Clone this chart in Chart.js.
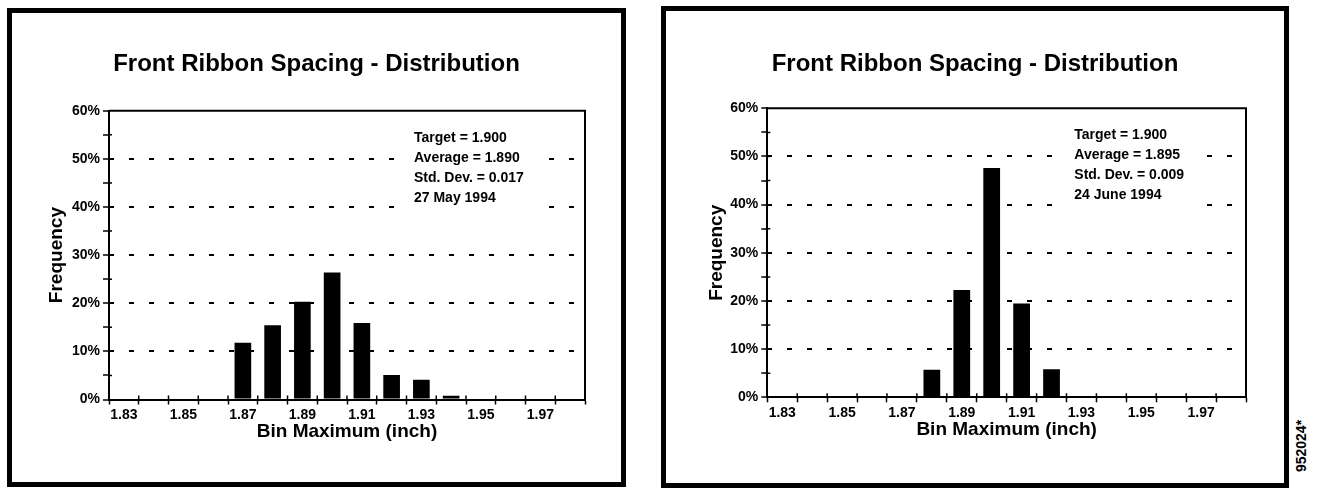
<!DOCTYPE html>
<html>
<head>
<meta charset="utf-8">
<script src="https://cdn.jsdelivr.net/npm/chart.js@4"></script>
<style>
  body { margin: 0; background: #fff; width: 1317px; height: 488px; position: relative; overflow: hidden; }
  .frame { position: absolute; border: 5px solid #000; box-sizing: border-box; }
  .frame canvas { position: absolute; left: 0; top: 0; }
  #stamp { position: absolute; left: 1301px; top: 446px; font: bold 14px "Liberation Sans", Arial, sans-serif;
           transform: translate(-50%, -50%) rotate(-90deg); white-space: nowrap; }
</style>
</head>
<body>
<div class="frame" style="left:7px;top:8px;width:619px;height:479px"><canvas id="mayChart" width="609" height="469"></canvas></div>
<div class="frame" style="left:661px;top:6px;width:628px;height:482px"><canvas id="juneChart" width="618" height="472"></canvas></div>
<div id="stamp">952024*</div>
<script>
// bins (inch) and frequency (%) per bin
var binMax = ["1.83", "1.84", "1.85", "1.86", "1.87", "1.88", "1.89", "1.90",
  "1.91", "1.92", "1.93", "1.94", "1.95", "1.96", "1.97", "1.98"];
var xTickLabels = ["1.83", "1.85", "1.87", "1.89", "1.91", "1.93", "1.95", "1.97"];
var yTickLabels = [0, 10, 20, 30, 40, 50, 60];

var freqMay = [0, 0, 0, 0, 11.8, 15.4, 20.3, 26.4, 15.9, 5.1, 4.1, 0.8, 0, 0, 0, 0];
var freqJune = [0, 0, 0, 0, 0, 5.7, 22.3, 47.6, 19.5, 5.8, 0, 0, 0, 0, 0, 0];

var notesMay = ["Target = 1.900", "Average = 1.890", "Std. Dev. = 0.017", "27 May 1994"];
var notesJune = ["Target = 1.900", "Average = 1.895", "Std. Dev. = 0.009", "24 June 1994"];

var FONT = '"Liberation Sans", Arial, sans-serif';

function makeChart(id, values, notes, box) {
  var notesPlugin = {
    id: "notes",
    beforeDatasetsDraw: function (chart) {
      var ctx = chart.ctx, a = chart.chartArea;
      var xs = chart.scales.x, ys = chart.scales.y;
      var y50 = ys.getPixelForValue(50);
      var x = a.left + box.noteX;
      ctx.save();
      ctx.font = "bold 14px " + FONT;
      var w = Math.max.apply(null, notes.map(function (t) { return ctx.measureText(t).width; }));
      // white box behind the notes hides the grid
      ctx.fillStyle = "#fff";
      ctx.fillRect(x - 14, y50 - 31, w + 34, 83);
      ctx.strokeStyle = "#000";
      // top and right edge of the plot
      ctx.lineWidth = 2;
      ctx.beginPath();
      ctx.moveTo(a.left, a.top);
      ctx.lineTo(a.right, a.top);
      ctx.lineTo(a.right, a.bottom);
      ctx.stroke();
      // tick marks cross the axes
      ctx.lineWidth = 1.5;
      ctx.beginPath();
      var half = (xs.getPixelForValue(1) - xs.getPixelForValue(0)) / 2;
      binMax.forEach(function (b, i) {
        var px = xs.getPixelForValue(i) + half;
        ctx.moveTo(px, a.bottom);
        ctx.lineTo(px, a.bottom - 4);
      });
      for (var v = 5; v < 60; v += 5) {
        var py = ys.getPixelForValue(v);
        ctx.moveTo(a.left, py);
        ctx.lineTo(a.left + 3, py);
      }
      ctx.stroke();
      ctx.restore();
    },
    afterDraw: function (chart) {
      var ctx = chart.ctx, a = chart.chartArea;
      var y50 = chart.scales.y.getPixelForValue(50);
      ctx.save();
      ctx.font = "bold 14px " + FONT;
      ctx.fillStyle = "#000";
      ctx.textBaseline = "middle";
      notes.forEach(function (t, i) {
        ctx.fillText(t, a.left + box.noteX, y50 - 21 + i * 20);
      });
      ctx.restore();
    }
  };

  return new Chart(document.getElementById(id), {
    type: "bar",
    data: {
      labels: binMax,
      datasets: [{
        data: values,
        backgroundColor: "#000",
        borderWidth: 0,
        barPercentage: 0.56,
        categoryPercentage: 1
      }]
    },
    options: {
      responsive: false,
      animation: false,
      layout: { padding: { left: box.left, right: box.right, top: 0, bottom: box.bottom } },
      plugins: {
        legend: { display: false },
        tooltip: { enabled: false },
        title: {
          display: true,
          text: "Front Ribbon Spacing - Distribution",
          color: "#000",
          font: { family: FONT, size: 24, weight: "bold" },
          padding: { top: box.titleTop, bottom: box.titleBottom }
        }
      },
      scales: {
        x: {
          grid: { color: "transparent", tickColor: "#000", tickLength: 5, tickWidth: 1.5, offset: true },
          border: { color: "#000", width: 2 },
          ticks: {
            autoSkip: false,
            maxRotation: 0,
            color: "#000",
            padding: 2,
            font: { family: FONT, size: 14, weight: "bold" },
            callback: function (v, i) {
              var l = binMax[i];
              return xTickLabels.indexOf(l) >= 0 ? l : "";
            }
          },
          title: {
            display: true,
            text: "Bin Maximum (inch)",
            color: "#000",
            font: { family: FONT, size: 19, weight: "bold" },
            padding: { top: 0, bottom: box.xTitlePad }
          },
          afterFit: function (s) { s.height = box.xHeight; }
        },
        y: {
          min: 0,
          max: 60,
          grid: {
            color: function (c) {
              var v = c.tick ? c.tick.value : 0;
              return (v % 10 === 0 && v > 0 && v < 60) ? "#000" : "transparent";
            },
            lineWidth: 2,
            tickColor: "#000",
            tickLength: 6,
            tickWidth: 1.5,
            tickBorderDash: []
          },
          border: { color: "#000", width: 2, dash: [5, 15], dashOffset: 1 },
          ticks: {
            stepSize: 5,
            color: "#000",
            padding: 3,
            font: { family: FONT, size: 14, weight: "bold" },
            callback: function (v) { return yTickLabels.indexOf(v) >= 0 ? v + "%" : ""; }
          },
          title: {
            display: true,
            text: "Frequency",
            color: "#000",
            font: { family: FONT, size: 19, weight: "bold" },
            padding: { top: box.yTitlePad, bottom: 0 }
          },
          afterFit: function (s) { s.width = box.yWidth; }
        }
      }
    },
    plugins: [notesPlugin]
  });
}

makeChart("mayChart", freqMay, notesMay, {
  left: 36, yWidth: 61, right: 36, bottom: 32.5, xHeight: 50, xTitlePad: 6.1,
  titleTop: 37.1, titleBottom: 31.8, yTitlePad: -2.4, noteX: 305
});
makeChart("juneChart", freqJune, notesJune, {
  left: 38, yWidth: 63.3, right: 38, bottom: 35.7, xHeight: 50, xTitlePad: 5.9,
  titleTop: 38.6, titleBottom: 29.9, yTitlePad: 1.6, noteX: 307
});
</script>
</body>
</html>
